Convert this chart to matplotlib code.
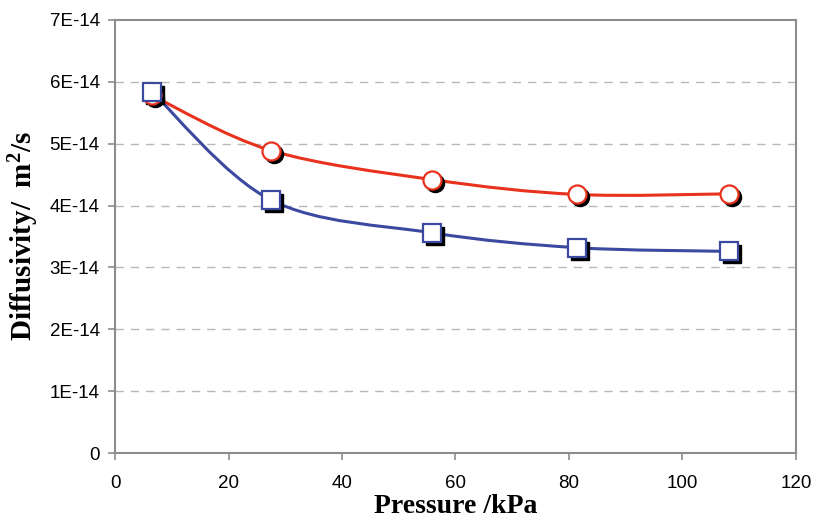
import numpy as np
import matplotlib
matplotlib.use("Agg")
import matplotlib.pyplot as plt
from matplotlib.path import Path
from matplotlib.patches import PathPatch
import matplotlib.transforms as mtransforms

plt.rcParams["mathtext.fontset"] = "custom"
plt.rcParams["mathtext.rm"] = "Liberation Serif:bold"
plt.rcParams["mathtext.bf"] = "Liberation Serif:bold"
plt.rcParams["mathtext.it"] = "Liberation Serif:bold"

pressure = [6.5, 27.5, 55.9, 81.4, 108.2]
diff_red = [5.78e-14, 4.89e-14, 4.42e-14, 4.18e-14, 4.19e-14]
diff_blue = [5.84e-14, 4.09e-14, 3.56e-14, 3.32e-14, 3.26e-14]
xticks = [0, 20, 40, 60, 80, 100, 120]
yticks = [0, 1e-14, 2e-14, 3e-14, 4e-14, 5e-14, 6e-14, 7e-14]
ytick_labels = ["0", "1E-14", "2E-14", "3E-14", "4E-14", "5E-14", "6E-14", "7E-14"]

RED = "#e8321e"
BLUE = "#3b49a0"

fig = plt.figure(figsize=(8.13, 5.19), dpi=100)
ax = fig.add_axes([0.1415, 0.127, 0.8375, 0.8345])
ax.set_xlim(0, 120)
ax.set_ylim(0, 7e-14)


def smooth_path(xs, ys, tension=1/6):
    # Excel-like smoothed line: cubic Bezier through points (Catmull-Rom)
    xs = np.asarray(xs); ys = np.asarray(ys)
    n = len(xs)
    verts = [(xs[0], ys[0])]
    codes = [Path.MOVETO]
    for i in range(n - 1):
        p0 = np.array([xs[max(i - 1, 0)], ys[max(i - 1, 0)]])
        p1 = np.array([xs[i], ys[i]])
        p2 = np.array([xs[i + 1], ys[i + 1]])
        p3 = np.array([xs[min(i + 2, n - 1)], ys[min(i + 2, n - 1)]])
        c1 = p1 + (p2 - p0) * tension
        c2 = p2 - (p3 - p1) * tension
        verts += [tuple(c1), tuple(c2), tuple(p2)]
        codes += [Path.CURVE4] * 3
    return Path(verts, codes)


for ys, col in [(diff_red, RED), (diff_blue, BLUE)]:
    patch = PathPatch(smooth_path(pressure, ys), facecolor="none", edgecolor=col,
                      lw=2.2, zorder=3)
    ax.add_patch(patch)

shadow = mtransforms.offset_copy(ax.transData, fig=fig, x=3, y=-3, units="dots")
ax.plot(pressure, diff_red, "o", ms=13, color="black", transform=shadow, zorder=4)
ax.plot(pressure, diff_red, "o", ms=13, mfc="white", mec=RED, mew=1.6, zorder=5)
ax.plot(pressure, diff_blue, "s", ms=12.5, color="black", transform=shadow, zorder=4)
ax.plot(pressure, diff_blue, "s", ms=12.5, mfc="white", mec=BLUE, mew=1.6, zorder=5)

ax.set_xticks(xticks)
ax.set_yticks(yticks)
ax.set_yticklabels(ytick_labels)
for y in yticks[1:-1]:
    ax.axhline(y, color="#b8b8b8", lw=1, ls=(0, (6, 5)), zorder=1)

for s in ax.spines.values():
    s.set_color("#8c8c8c")
    s.set_linewidth(1.5)
ax.tick_params(axis="both", colors="#8c8c8c", length=5, width=1.2,
               labelcolor="black", labelsize=13.5)
for lab in ax.get_xticklabels() + ax.get_yticklabels():
    lab.set_fontfamily("Liberation Sans")
ax.tick_params(axis="x", pad=11)
ax.tick_params(axis="y", pad=6)

ax.set_xlabel("Pressure /kPa", fontfamily="Liberation Serif", fontweight="bold",
              fontsize=20, labelpad=1)
ax.set_ylabel(r"Diffusivity/  m$^{2}$/s", fontfamily="Liberation Serif",
              fontweight="bold", fontsize=21, labelpad=6)

fig.savefig("out.png", dpi=100)
